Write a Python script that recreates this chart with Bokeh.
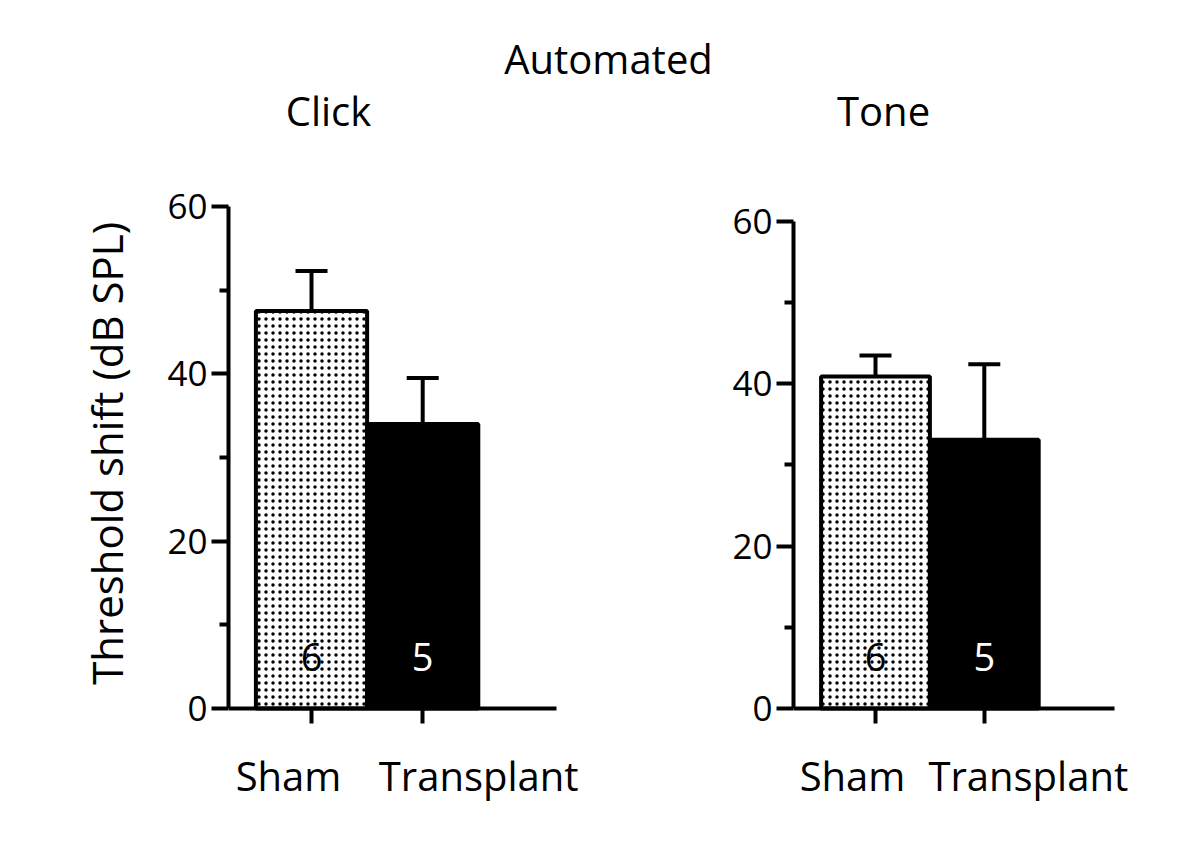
import math
from bokeh.plotting import figure
from bokeh.layouts import row
from bokeh.models import Range1d, FixedTicker, ColumnDataSource, Whisker, TeeHead, Label
from bokeh.core.properties import value
from bokeh.embed import file_html
from bokeh.resources import INLINE

# ---------------- data ----------------
super_title = "Automated"
panel_titles = ["Click", "Tone"]
categories = ["Sham", "Transplant"]
y_label = "Threshold shift (dB SPL)"
click_mean = [47.5, 34.0]
click_sem = [4.8, 5.5]
tone_mean = [40.9, 33.1]
tone_sem = [2.6, 9.3]
n_animals = [6, 5]
y_ticks = [0, 20, 40, 60]
y_minor_ticks = [10, 30, 50]

FONT = "Open Sans"
H = 833


def make_panel(title, means, sems, width, border_left, x_range, y_range, axis_x_end,
               title_xy, label_offsets, label_y):
    xs = [i + 1 for i in range(len(categories))]
    p = figure(width=width, height=H,
               x_range=Range1d(*x_range), y_range=Range1d(*y_range),
               output_backend="svg", toolbar_location=None,
               min_border_left=border_left, min_border_right=0,
               min_border_top=0, min_border_bottom=20)
    p.xgrid.visible = False
    p.ygrid.visible = False
    p.outline_line_color = None
    p.background_fill_color = "white"
    p.border_fill_color = "white"

    # bars
    p.vbar(x=xs[0:1], top=means[0:1], bottom=0, width=1.0,
           fill_color="white", hatch_pattern="dot", hatch_color="black",
           hatch_scale=7, hatch_weight=2.0,
           line_color="black", line_width=4)
    p.vbar(x=xs[1:2], top=means[1:2], bottom=0, width=1.0,
           fill_color="black", line_color="black", line_width=4)

    # error bars (upper only)
    err = ColumnDataSource(dict(x=xs, lower=means,
                                upper=[m + s for m, s in zip(means, sems)]))
    wh = Whisker(source=err, base="x", lower="lower", upper="upper",
                 dimension="height", line_color="black", line_width=4,
                 upper_head=TeeHead(size=32, line_color="black", line_width=4),
                 lower_head=None)
    p.add_layout(wh)

    # n counts inside bars
    p.text(x=xs, y=[0] * len(xs), text=[str(n) for n in n_animals],
           text_color=["black", "white"], text_font=value(FONT),
           text_font_size="38px", text_align="center",
           text_baseline="alphabetic", y_offset=-51)

    # category labels below axis
    for x, cat, off in zip(xs, categories, label_offsets):
        p.add_layout(Label(x=x, y=label_y, text=cat, x_offset=off,
                           text_font=FONT, text_font_size="40px",
                           text_align="center", text_baseline="alphabetic",
                           text_color="black"))

    # panel title
    p.add_layout(Label(x=title_xy[0], y=title_xy[1], text=title,
                       text_font=FONT, text_font_size="40px",
                       text_align="center", text_baseline="alphabetic",
                       text_color="black"))

    # y axis (bounded to the data scale)
    ya = p.yaxis[0]
    ya.bounds = (y_ticks[0], y_ticks[-1])
    ya.ticker = FixedTicker(ticks=y_ticks, minor_ticks=y_minor_ticks)
    ya.axis_line_width = 4
    ya.axis_line_color = "black"
    ya.major_tick_line_width = 4
    ya.minor_tick_line_width = 4
    ya.major_tick_out = 17
    ya.major_tick_in = 0
    ya.minor_tick_out = 9
    ya.minor_tick_in = 0
    ya.major_label_text_font = FONT
    ya.major_label_text_font_size = "35px"
    ya.major_label_text_color = "black"
    ya.major_label_standoff = 4

    # x axis at y = 0
    xa = p.xaxis[0]
    xa.fixed_location = 0
    xa.bounds = (x_range[0], axis_x_end)
    xa.ticker = FixedTicker(ticks=xs, minor_ticks=[])
    xa.axis_line_width = 4
    xa.axis_line_color = "black"
    xa.major_tick_line_width = 4
    xa.major_tick_out = 15
    xa.major_tick_in = 0
    xa.minor_tick_out = 0
    xa.major_label_overrides = {x: " " for x in xs}
    xa.major_label_standoff = 0
    xa.major_label_text_font_size = "2px"
    return p


# narrow strip holding the shared y-axis title
LW = 150
p0 = figure(width=LW, height=H, x_range=Range1d(0, LW), y_range=Range1d(0, H),
            output_backend="svg", toolbar_location=None,
            x_axis_location=None, y_axis_location=None,
            min_border_left=0, min_border_right=0, min_border_top=0, min_border_bottom=0)
p0.xgrid.visible = False
p0.ygrid.visible = False
p0.outline_line_color = None
p0.border_fill_color = "white"
p0.add_layout(Label(x=106, y=H - 464, text=y_label, angle=math.pi / 2,
                    text_font=FONT, text_font_size="42px",
                    text_align="center", text_baseline="middle",
                    text_color="black"))

p1 = make_panel(panel_titles[0], click_mean, click_sem, width=571, border_left=78,
                x_range=(0.2536, 4.687), y_range=(-12.55, 84.62), axis_x_end=3.203,
                title_xy=(1.153, 71.47), label_offsets=[-23, 56], label_y=-7.97)
p1.add_layout(Label(x=3.671, y=77.69, text=super_title, text_font=FONT,
                    text_font_size="40px", text_align="center",
                    text_baseline="alphabetic", text_color="black"))

p2 = make_panel(panel_titles[1], tone_mean, tone_sem, width=472, border_left=72,
                x_range=(0.2463, 3.923), y_range=(-12.94, 87.22), axis_x_end=3.197,
                title_xy=(1.074, 73.67), label_offsets=[-23, 44], label_y=-8.22)

layout = row(p0, p1, p2)
open("out.html", "w").write(file_html(layout, INLINE))
